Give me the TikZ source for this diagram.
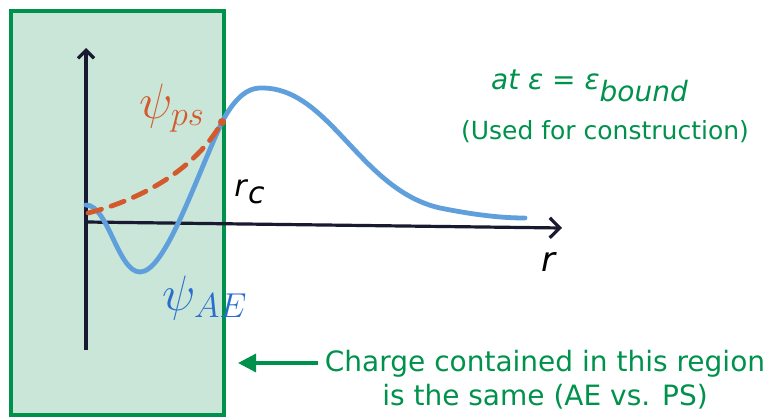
\documentclass[tikz,border=0pt]{standalone}
\usepackage{fontspec}
\setmainfont{DejaVu Sans}
\usetikzlibrary{arrows.meta,positioning,calc}
\definecolor{NoteGreen}{RGB}{0,146,76}
\definecolor{CoreFill}{RGB}{201,230,216}
\definecolor{WaveAE}{RGB}{95,160,220}
\definecolor{LabelAE}{RGB}{40,110,205}
\definecolor{WavePS}{RGB}{210,90,45}
\definecolor{AxisInk}{RGB}{25,25,50}
\tikzset{>=Stealth,note/.style={text=NoteGreen,font=\fontsize{14}{17}\selectfont,align=center},
 axis/.style={draw=AxisInk,line width=1.6pt},wave/.style={line width=2.4pt,line cap=round},
 hand/.style={font=\fontsize{25}{25}\selectfont}}

\begin{document}
\begin{tikzpicture}[x=0.5pt,y=-0.5pt]
\useasboundingbox (0,0) rectangle (770,417);
\draw[draw=NoteGreen,fill=CoreFill,line width=1.6pt] (11,11) rectangle (224,415);
\coordinate (o) at (86,222);\coordinate (ytop) at (86,48);\coordinate (ybot) at (86,350);
\coordinate (xend) at (562,228);\coordinate (rc) at (222,122);
\draw[axis] (ybot) -- (o);\draw[axis,-{Straight Barb[length=4pt]}] (o) -- (ytop);
\draw[axis,-{Straight Barb[length=5pt]}] (o) -- (xend);
\draw[wave,WaveAE] (86,205) .. controls (108,205) and (118,272) .. (140,272)
 .. controls (165,272) and (195,180) .. (rc) .. controls (240,88) and (255,88) .. (262,88)
 .. controls (330,88) and (360,190) .. (440,208) .. controls (480,216) and (505,218) .. (525,218);
\draw[wave,WavePS,dash pattern=on 7pt off 5pt] (88,213) .. controls (140,200) and (195,170) .. (rc);
\fill[WavePS] (rc) circle (4);
\node[hand,text=WavePS] (psilbl) at (172,108) {$\psi_{ps}$};
\node[hand,text=LabelAE] (aelbl) at (205,298) {$\psi_{AE}$};
\node[font=\fontsize{15}{15}\selectfont] (rclbl) at (250,192) {\textit{r}$_{\textit{c}}$};
\node[font=\fontsize{17}{17}\selectfont] (rlbl) at (549,262) {\textit{r}};
\node[note] (eps) at (590,86) {\textit{at ε = ε$_{\textit{bound}}$}};
\node[note,font=\fontsize{12.5}{15}\selectfont] (used) at (605,132) {(Used for construction)};
\node[note] (charge) at (545,380) {Charge contained in this region\\is the same (AE vs. PS)};
\coordinate (tip) at (238,363);
\draw[NoteGreen,line width=1.6pt,-{Triangle[length=9pt,width=9pt]}] (charge.west |- tip) -- (tip);
\end{tikzpicture}
\end{document}
